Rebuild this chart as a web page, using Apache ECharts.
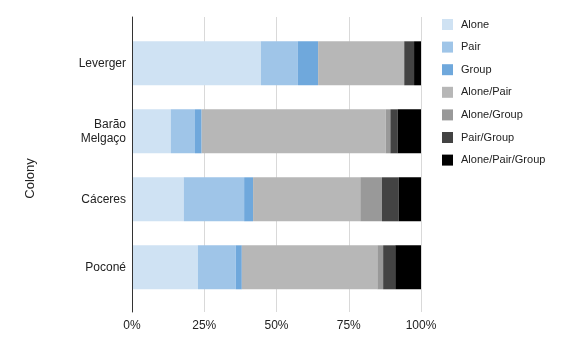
<!DOCTYPE html>
<html>
<head>
<meta charset="utf-8">
<script src="https://cdn.jsdelivr.net/npm/echarts@6/dist/echarts.min.js"></script>
<style>
html,body{margin:0;padding:0;background:#fff;}
#chart{width:566px;height:350px;}
</style>
</head>
<body>
<div id="chart"></div>
<script>
const categories = ['Leverger', 'Barão\nMelgaço', 'Cáceres', 'Poconé'];
const seriesNames = ['Alone', 'Pair', 'Group', 'Alone/Pair', 'Alone/Group', 'Pair/Group', 'Alone/Pair/Group'];
const alone = [44.6, 13.4, 17.9, 22.8];
const pair = [12.8, 8.4, 20.9, 13.1];
const group = [7.0, 2.3, 3.1, 2.1];
const alonePair = [29.8, 63.7, 37.1, 46.9];
const aloneGroup = [0, 1.6, 7.5, 2.0];
const pairGroup = [3.4, 2.5, 5.8, 4.2];
const alonePairGroup = [2.4, 8.1, 7.7, 8.9];
const xTicks = [0, 25, 50, 75, 100];
const colors = ['#cfe2f3', '#9fc5e8', '#6fa8dc', '#b7b7b7', '#999999', '#434343', '#000000'];

const values = [alone, pair, group, alonePair, aloneGroup, pairGroup, alonePairGroup];
const font = 'Arial, "Liberation Sans", sans-serif';

const chart = echarts.init(document.getElementById('chart'), null, {renderer: 'canvas'});
chart.setOption({
  animation: false,
  textStyle: {fontFamily: font},
  legend: {
    orient: 'vertical',
    left: 442,
    top: 19,
    padding: 0,
    itemWidth: 11,
    itemHeight: 11,
    itemGap: 11.6,
    icon: 'rect',
    data: seriesNames,
    textStyle: {fontSize: 11, color: '#222', fontFamily: font, padding: [0, 0, 0, 3]}
  },
  grid: [
    {left: 132, right: 145, top: 17, bottom: 38},
    {left: 132, right: 145, top: 29.3, height: 272}
  ],
  xAxis: [
    {
      gridIndex: 0, type: 'value', min: xTicks[0], max: xTicks[xTicks.length - 1], interval: 25,
      axisLine: {show: false}, axisTick: {show: false},
      splitLine: {show: true, lineStyle: {color: '#d9d9d9', width: 1}},
      axisLabel: {formatter: '{value}%', color: '#222', fontSize: 12, margin: 8, fontFamily: font}
    },
    {
      gridIndex: 1, type: 'value', min: 0, max: 100, show: false
    }
  ],
  yAxis: [
    {
      gridIndex: 0, type: 'category', data: categories, inverse: true, z: 10,
      axisLine: {show: true, lineStyle: {color: '#333', width: 1}},
      axisTick: {show: false}, axisLabel: {show: false}, splitLine: {show: false},
      name: 'Colony', nameLocation: 'middle', nameGap: 95, nameRotate: 90,
      nameTextStyle: {fontSize: 13, color: '#222', fontFamily: font, padding: [0, 28, 0, 0]}
    },
    {
      gridIndex: 1, type: 'category', data: categories, inverse: true,
      axisLine: {show: false}, axisTick: {show: false},
      axisLabel: {color: '#222', fontSize: 12, margin: 6, lineHeight: 14, fontFamily: font}
    }
  ],
  series: seriesNames.map((name, i) => ({
    name: name,
    type: 'bar',
    stack: 'total',
    xAxisIndex: 1,
    yAxisIndex: 1,
    barWidth: 44,
    itemStyle: {color: colors[i]},
    data: values[i]
  }))
});
</script>
</body>
</html>
